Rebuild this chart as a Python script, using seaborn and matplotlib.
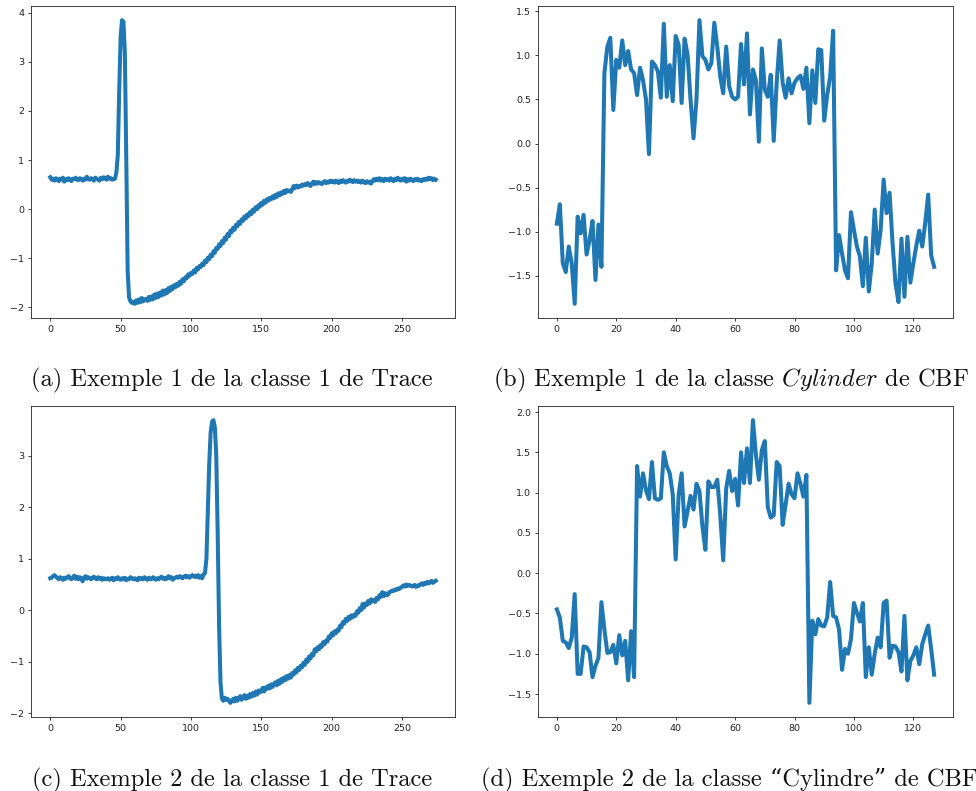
import numpy as np
import matplotlib
matplotlib.use("Agg")
import matplotlib.pyplot as plt
from matplotlib.ticker import MultipleLocator
import seaborn as sns

# ---------------- data ----------------
trace_ex1 = [
    0.65, 0.60, 0.62, 0.58, 0.63, 0.61, 0.57, 0.62, 0.60, 0.64,
    0.56, 0.61, 0.59, 0.63, 0.60, 0.57, 0.62, 0.61, 0.64, 0.60,
    0.59, 0.63, 0.61, 0.58, 0.62, 0.60, 0.66, 0.62, 0.60, 0.63,
    0.61, 0.58, 0.64, 0.62, 0.60, 0.58, 0.64, 0.61, 0.65, 0.62,
    0.60, 0.66, 0.62, 0.63, 0.60, 0.61, 0.62, 0.75, 1.10, 2.40,
    3.50, 3.85, 3.82, 3.20, 1.10, -1.25, -1.80, -1.88, -1.91, -1.89,
    -1.93, -1.86, -1.91, -1.84, -1.90, -1.81, -1.88, -1.84, -1.83, -1.87,
    -1.79, -1.85, -1.78, -1.84, -1.74, -1.81, -1.72, -1.79, -1.70, -1.76,
    -1.66, -1.74, -1.65, -1.71, -1.61, -1.67, -1.58, -1.63, -1.55, -1.59,
    -1.52, -1.56, -1.48, -1.52, -1.43, -1.47, -1.39, -1.41, -1.33, -1.36,
    -1.30, -1.32, -1.25, -1.29, -1.20, -1.23, -1.16, -1.18, -1.11, -1.14,
    -1.05, -1.08, -0.99, -1.02, -0.93, -0.96, -0.86, -0.89, -0.79, -0.81,
    -0.72, -0.75, -0.65, -0.69, -0.58, -0.62, -0.51, -0.55, -0.44, -0.47,
    -0.38, -0.42, -0.32, -0.35, -0.26, -0.30, -0.21, -0.24, -0.15, -0.19,
    -0.11, -0.14, -0.06, -0.10, -0.01, -0.05, 0.04, 0.00, 0.08, 0.05,
    0.13, 0.09, 0.17, 0.13, 0.20, 0.17, 0.23, 0.20, 0.26, 0.22,
    0.29, 0.25, 0.32, 0.28, 0.34, 0.31, 0.37, 0.33, 0.39, 0.36,
    0.38, 0.35, 0.40, 0.47, 0.43, 0.48, 0.44, 0.47, 0.46, 0.50,
    0.48, 0.51, 0.49, 0.53, 0.50, 0.47, 0.52, 0.56, 0.51, 0.55,
    0.52, 0.55, 0.53, 0.51, 0.54, 0.57, 0.53, 0.56, 0.54, 0.58,
    0.55, 0.57, 0.54, 0.58, 0.56, 0.53, 0.58, 0.55, 0.59, 0.56,
    0.54, 0.58, 0.56, 0.60, 0.57, 0.55, 0.59, 0.56, 0.58, 0.55,
    0.57, 0.54, 0.58, 0.55, 0.53, 0.57, 0.54, 0.56, 0.52, 0.57,
    0.61, 0.58, 0.62, 0.59, 0.63, 0.58, 0.61, 0.57, 0.62, 0.59,
    0.61, 0.58, 0.63, 0.60, 0.57, 0.62, 0.59, 0.64, 0.60, 0.58,
    0.62, 0.59, 0.63, 0.56, 0.61, 0.58, 0.62, 0.60, 0.57, 0.61,
    0.59, 0.62, 0.58, 0.60, 0.57, 0.61, 0.59, 0.62, 0.60, 0.64,
    0.61, 0.63, 0.59, 0.62, 0.60,
]

trace_ex2 = [
    0.62, 0.63, 0.66, 0.68, 0.65, 0.63, 0.60, 0.64, 0.62, 0.59,
    0.63, 0.61, 0.64, 0.66, 0.62, 0.60, 0.63, 0.67, 0.61, 0.65,
    0.60, 0.64, 0.62, 0.56, 0.63, 0.66, 0.61, 0.64, 0.62, 0.60,
    0.63, 0.65, 0.62, 0.60, 0.64, 0.61, 0.63, 0.59, 0.62, 0.61,
    0.60, 0.62, 0.59, 0.61, 0.63, 0.58, 0.62, 0.60, 0.64, 0.61,
    0.59, 0.62, 0.60, 0.63, 0.58, 0.61, 0.60, 0.64, 0.62, 0.60,
    0.62, 0.60, 0.58, 0.63, 0.61, 0.62, 0.60, 0.64, 0.61, 0.59,
    0.63, 0.61, 0.60, 0.64, 0.62, 0.59, 0.62, 0.60, 0.63, 0.65,
    0.61, 0.63, 0.60, 0.62, 0.66, 0.62, 0.64, 0.59, 0.62, 0.63,
    0.65, 0.63, 0.66, 0.64, 0.62, 0.65, 0.67, 0.64, 0.66, 0.63,
    0.66, 0.68, 0.65, 0.67, 0.64, 0.68, 0.63, 0.66, 0.62, 0.70,
    0.72, 1.00, 1.90, 2.85, 3.45, 3.66, 3.69, 3.55, 3.00, 1.50,
    -0.30, -1.40, -1.72, -1.76, -1.70, -1.74, -1.72, -1.76, -1.80, -1.77,
    -1.72, -1.77, -1.70, -1.76, -1.71, -1.67, -1.74, -1.69, -1.65, -1.72,
    -1.66, -1.70, -1.63, -1.68, -1.61, -1.66, -1.58, -1.64, -1.56, -1.60,
    -1.56, -1.51, -1.58, -1.50, -1.53, -1.47, -1.52, -1.44, -1.49, -1.43,
    -1.40, -1.46, -1.37, -1.43, -1.34, -1.39, -1.31, -1.36, -1.28, -1.33,
    -1.26, -1.31, -1.22, -1.25, -1.17, -1.21, -1.12, -1.16, -1.08, -1.11,
    -1.02, -1.06, -0.96, -1.00, -0.90, -0.94, -0.85, -0.88, -0.76, -0.80,
    -0.72, -0.76, -0.68, -0.71, -0.62, -0.66, -0.59, -0.61, -0.51, -0.54,
    -0.45, -0.49, -0.41, -0.45, -0.38, -0.40, -0.30, -0.33, -0.23, -0.26,
    -0.17, -0.21, -0.13, -0.17, -0.10, -0.14, -0.09, -0.11, -0.02, -0.05,
    0.04, 0.00, 0.12, 0.05, 0.13, 0.10, 0.18, 0.13, 0.21, 0.17,
    0.20, 0.16, 0.24, 0.21, 0.29, 0.26, 0.35, 0.27, 0.33, 0.29,
    0.30, 0.35, 0.36, 0.38, 0.37, 0.40, 0.39, 0.42, 0.41, 0.44,
    0.45, 0.48, 0.46, 0.50, 0.47, 0.49, 0.48, 0.46, 0.47, 0.49,
    0.45, 0.48, 0.47, 0.50, 0.52, 0.49, 0.53, 0.51, 0.55, 0.52,
    0.54, 0.57, 0.53, 0.55, 0.57,
]

cbf_ex1 = [
    -0.91, -0.69, -1.36, -1.46, -1.17, -1.36, -1.82, -0.83, -1.02, -0.81,
    -1.26, -1.10, -0.88, -1.55, -0.92, -1.40, 0.80, 1.10, 1.20, 0.38,
    0.95, 0.86, 1.17, 0.89, 1.05, 0.84, 0.80, 0.55, 0.86, 0.72,
    0.50, -0.12, 0.93, 0.89, 0.82, 0.52, 1.36, 0.53, 0.89, 0.48,
    1.22, 1.12, 0.46, 1.19, 1.01, 0.50, 0.06, 0.50, 1.40, 0.99,
    0.95, 0.84, 0.91, 1.37, 1.10, 0.76, 0.57, 1.10, 0.65, 0.53,
    0.50, 0.53, 1.13, 0.67, 1.25, 0.33, 0.84, 0.72, 0.02, 1.08,
    0.61, 0.53, 0.78, 0.03, 0.69, 1.17, 0.69, 0.52, 0.74, 0.57,
    0.69, 0.74, 0.77, 0.62, 0.86, 0.23, 0.83, 0.46, 1.07, 1.06,
    0.26, 0.55, 0.76, 1.28, -1.44, -1.04, -1.25, -1.44, -1.53, -0.78,
    -0.98, -1.17, -1.28, -1.62, -1.07, -1.68, -1.36, -0.75, -1.25, -0.98,
    -0.41, -0.79, -0.56, -1.13, -1.59, -1.80, -1.08, -1.74, -1.06, -1.58,
    -1.36, -1.16, -0.99, -1.17, -0.90, -0.58, -1.27, -1.40,
]

cbf_ex2 = [
    -0.45, -0.55, -0.84, -0.86, -0.93, -0.80, -0.26, -1.25, -1.25, -0.91,
    -0.92, -0.98, -1.29, -1.15, -1.05, -0.36, -0.70, -0.99, -0.98, -0.89,
    -1.12, -0.77, -1.02, -0.84, -1.33, -0.72, -1.29, 1.33, 0.95, 1.24,
    1.03, 0.92, 1.38, 0.93, 0.91, 0.93, 1.50, 1.33, 1.24, 0.98,
    0.17, 0.97, 1.24, 0.58, 0.77, 0.96, 0.79, 1.11, 1.02, 0.58,
    0.29, 1.14, 1.07, 1.07, 1.16, 0.72, 0.16, 1.05, 1.27, 1.02,
    1.17, 0.84, 1.50, 1.12, 1.55, 1.12, 1.90, 1.47, 1.16, 1.53,
    1.64, 0.82, 0.69, 0.72, 1.38, 1.33, 0.60, 0.85, 1.11, 0.98,
    0.93, 1.24, 1.11, 0.95, 1.22, -1.61, -0.59, -0.76, -0.57, -0.65,
    -0.66, -0.55, -0.11, -0.53, -0.55, -0.70, -1.20, -0.94, -1.00, -0.82,
    -0.37, -0.49, -0.60, -0.37, -1.29, -0.92, -1.26, -1.00, -0.80, -0.92,
    -0.37, -0.34, -1.05, -0.90, -0.91, -0.98, -1.22, -0.53, -1.33, -1.09,
    -1.02, -0.92, -1.13, -0.88, -0.76, -0.65, -0.94, -1.26,
]

captions = [
    "(a) Exemple 1 de la classe 1 de Trace",
    r"(b) Exemple 1 de la classe $\mathit{Cylinder}$ de CBF",
    "(c) Exemple 2 de la classe 1 de Trace",
    "(d) Exemple 2 de la classe \u201cCylindre\u201d de CBF",
]
series = [trace_ex1, cbf_ex1, trace_ex2, cbf_ex2]
x_steps = [50, 20, 50, 20]
y_steps = [1, 0.5, 1, 0.5]

# ---------------- style ----------------
plt.rcParams["mathtext.fontset"] = "cm"
LINE_COLOR = "#1f77b4"

fig = plt.figure(figsize=(9.76, 7.91), dpi=100)

W, H = 976.0, 791.0
# axes boxes in pixels: (left, top, right, bottom)
boxes = [
    (31, 6, 455, 318),
    (538, 6, 953, 318),
    (31, 406, 455, 717),
    (538, 406, 953, 717),
]
cap_pos = [(232, 386), (731, 386), (232, 786), (729, 786)]

for k in range(4):
    l, t, r, b = boxes[k]
    ax = fig.add_axes([l / W, 1 - b / H, (r - l) / W, (b - t) / H])
    y = series[k]
    x = np.arange(len(y))
    sns.lineplot(x=x, y=y, ax=ax, color=LINE_COLOR, linewidth=2.9)
    ax.xaxis.set_major_locator(MultipleLocator(x_steps[k]))
    ax.yaxis.set_major_locator(MultipleLocator(y_steps[k]))
    ax.tick_params(labelsize=6.8, length=2.5, width=0.6, pad=2.4, colors="#222222")
    for s in ax.spines.values():
        s.set_linewidth(0.6)
        s.set_color("#222222")
    ax.set_xlabel("")
    ax.set_ylabel("")
    cx, cy = cap_pos[k]
    fig.text(cx / W, 1 - cy / H, captions[k], ha="center", va="baseline",
             fontsize=17.6, family=["cmr10", "DejaVu Serif"], color="#111111")

fig.savefig("out.png", dpi=100)
